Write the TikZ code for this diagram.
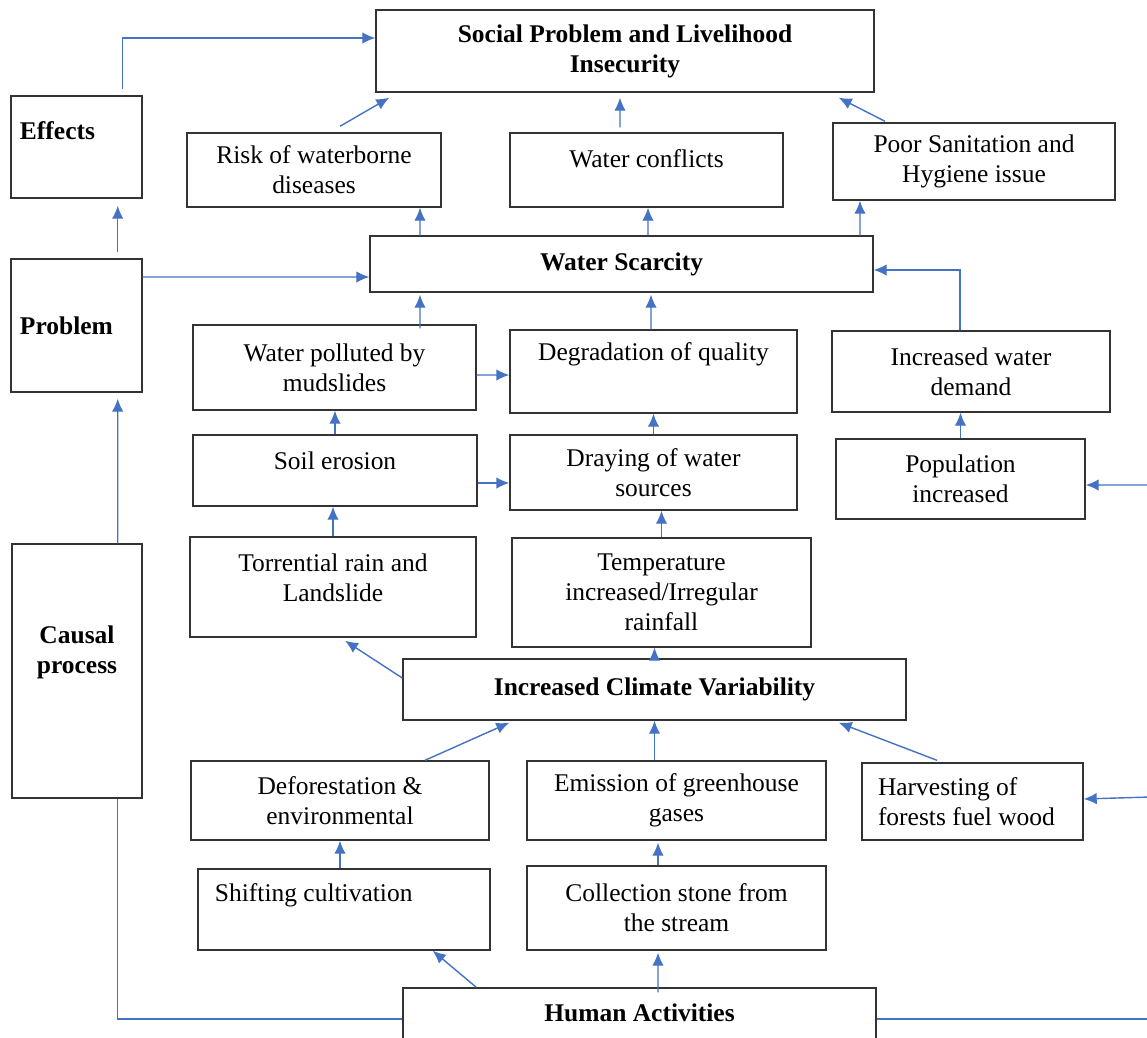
\documentclass[tikz,border=0pt]{standalone}
\usepackage{fontspec}
\setmainfont{Liberation Serif}
\usepackage{tikz}
\usetikzlibrary{arrows.meta}
\definecolor{linkblue}{RGB}{68,114,196}

\begin{document}
\begin{tikzpicture}[x=0.2mm,y=-0.2mm,>={Latex[length=2.6mm,width=2.3mm]},
    font=\fontsize{14.5}{17}\selectfont]
  \tikzstyle{block}=[rectangle,draw=black!80,line width=0.8pt,inner sep=0pt,
                     align=center]
  \tikzstyle{main block}=[block,font=\fontsize{14.5}{17}\selectfont\bfseries]
  \tikzstyle{flow}=[->,draw=linkblue,line width=0.8pt]
  \tikzstyle{link}=[draw=linkblue,line width=0.8pt]

  \useasboundingbox (0,0) rectangle (1147,1037);
  \clip (0,0) rectangle (1147,1037);

  % left column
  \node[main block,minimum width=2.62cm,minimum height=2.04cm,text width=2.26cm,
        align=flush left,text depth=19pt] (effects) at (76.5,147) {Effects};
  \node[main block,minimum width=2.62cm,minimum height=2.66cm,text width=2.26cm,
        align=flush left] (problem) at (76.5,325.5) {Problem};
  \node[main block,minimum width=2.6cm,minimum height=5.08cm,text depth=24pt]
        (causal) at (77,671) {Causal\\process};

  % effects
  \node[main block,minimum width=9.96cm,minimum height=1.64cm] (social) at (625,51)
        {Social Problem and Livelihood\\Insecurity};
  \node[block,minimum width=5.08cm,minimum height=1.48cm] (risk) at (314,170)
        {Risk of waterborne\\diseases};
  \node[block,minimum width=5.46cm,minimum height=1.48cm,text depth=13pt]
        (conflicts) at (646.5,170) {Water conflicts};
  \node[block,minimum width=5.64cm,minimum height=1.54cm] (sanitation) at (974,161.5)
        {Poor Sanitation and\\Hygiene issue};

  % problem
  \node[main block,minimum width=10.06cm,minimum height=1.12cm] (scarcity) at (621.5,264)
        {Water Scarcity};

  % causal process
  \node[block,minimum width=5.66cm,minimum height=1.7cm] (polluted) at (334.5,367.5)
        {Water polluted by\\mudslides};
  \node[block,minimum width=5.74cm,minimum height=1.66cm,text depth=23pt]
        (quality) at (653.5,371.5) {Degradation of quality};
  \node[block,minimum width=5.56cm,minimum height=1.62cm] (demand) at (971,371.5)
        {Increased water\\demand};
  \node[block,minimum width=5.68cm,minimum height=1.42cm,text depth=11pt]
        (erosion) at (335,470.5) {Soil erosion};
  \node[block,minimum width=5.74cm,minimum height=1.5cm] (drying) at (653.5,472.5)
        {Draying of water\\sources};
  \node[block,minimum width=4.98cm,minimum height=1.6cm] (population) at (960.5,479)
        {Population\\increased};
  \node[block,minimum width=5.72cm,minimum height=2cm,text depth=11pt]
        (rain) at (333,587) {Torrential rain and\\Landslide};
  \node[block,minimum width=5.98cm,minimum height=2.18cm] (temperature) at (661.5,592.5)
        {Temperature\\increased/Irregular\\rainfall};
  \node[main block,minimum width=10.06cm,minimum height=1.22cm] (climate) at (654.5,689.5)
        {Increased Climate Variability};
  \node[block,minimum width=5.96cm,minimum height=1.58cm] (deforest) at (340,800.5)
        {Deforestation \&\\environmental};
  \node[block,minimum width=5.98cm,minimum height=1.58cm] (emission) at (676.5,800.5)
        {Emission of greenhouse\\gases};
  \node[block,minimum width=4.42cm,minimum height=1.54cm,text width=3.78cm,
        align=flush left] (fuelwood) at (972.5,801.5) {Harvesting of\\forests fuel wood};
  \node[block,minimum width=5.84cm,minimum height=1.62cm,text width=5.16cm,
        align=flush left,text depth=19pt] (shifting) at (344,909.5) {Shifting cultivation};
  \node[block,minimum width=5.98cm,minimum height=1.68cm] (stone) at (676.5,908)
        {Collection stone from\\the stream};
  \node[main block,minimum width=9.46cm,minimum height=1.24cm,text depth=7pt]
        (human) at (639.5,1019) {Human Activities};

  % lines coming in from the right
  \coordinate (east1) at (1150,485);
  \coordinate (east2) at (1150,797);
  \coordinate (east3) at (1150,1019);

  % left column links
  \draw[flow] ([xshift=-4mm,yshift=1.2mm]effects.north east) |- ([yshift=2.6mm]social.west);
  \draw[flow,shorten <=1.2mm,shorten >=1.4mm] ([xshift=-5mm]problem.north east)
        -- ([xshift=-5mm]effects.south east);
  \draw[flow] ([yshift=9.7mm]problem.east) -- ([yshift=-2.6mm]scarcity.west);
  \draw[flow,shorten >=1.2mm] ([xshift=-5mm]causal.north east) -- ([xshift=-5mm]problem.south east);
  \draw[link] ([xshift=-5mm]causal.south east) |- (human.west);
  \draw[link] (human.east) -- (east3);

  % effects
  \draw[flow] ([xshift=5.2mm,yshift=1.2mm]risk.north) -- ([xshift=2.8mm,yshift=-1mm]social.south west);
  \draw[flow] ([xshift=-5.3mm,yshift=1mm]conflicts.north) -- ([xshift=-1mm,yshift=-1mm]social.south);
  \draw[flow] ([xshift=-17.8mm,yshift=0.2mm]sanitation.north) -- ([xshift=-7.2mm,yshift=-1mm]social.south east);

  % problem
  \draw[flow] ([xshift=-40.3mm]scarcity.north) -- ([xshift=21.2mm]risk.south);
  \draw[flow] ([xshift=5.3mm]scarcity.north) -- ([xshift=0.3mm]conflicts.south);
  \draw[flow] ([xshift=47.7mm]scarcity.north) -- ([xshift=-22.8mm]sanitation.south);
  \draw[flow] ([xshift=17.1mm,yshift=-0.8mm]polluted.north) -- ([xshift=-40.3mm,yshift=-0.4mm]scarcity.south);
  \draw[flow] ([xshift=-0.5mm]quality.north) -- ([xshift=5.9mm,yshift=-0.4mm]scarcity.south);
  \draw[flow] ([xshift=-2.2mm]demand.north) |- ([yshift=-1.2mm]scarcity.east);

  % causal process
  \draw[flow] ([yshift=-1.5mm]polluted.east) -- ([yshift=-0.7mm]quality.west);
  \draw[flow] (erosion.north) -- (erosion.north |- polluted.south);
  \draw[flow] (drying.north) -- (quality.south);
  \draw[flow] (population.north) -- (population.north |- demand.south);
  \draw[flow] ([yshift=-2.5mm]erosion.east) -- ([yshift=-2.1mm]drying.west);
  \draw[flow] (rain.north) -- (rain.north |- erosion.south);
  \draw[flow] (temperature.north) -- (temperature.north |- drying.south);
  \draw[flow] (east1) -- ([yshift=-1.2mm]population.east);
  \draw[flow] ([yshift=2.3mm]climate.west) -- ([xshift=2.4mm,yshift=-0.6mm]rain.south);
  \draw[flow] (climate.north) -- (climate.north |- temperature.south);
  \draw[flow] ([xshift=17mm]deforest.north) -- ([xshift=21.4mm,yshift=-0.4mm]climate.south west);
  \draw[flow] (emission.north -| climate.south) -- (climate.south);
  \draw[flow] ([xshift=-7.1mm,yshift=0.4mm]fuelwood.north) -- ([xshift=-13.6mm,yshift=-0.4mm]climate.south east);
  \draw[flow] (east2) -- ([yshift=0.5mm]fuelwood.east);
  \draw[flow] (shifting.north -| deforest.south) -- (deforest.south);
  \draw[flow] ([xshift=-3.7mm]stone.north) -- ([xshift=-3.7mm,yshift=-0.4mm]emission.south);

  % human activities
  \draw[flow] ([xshift=14.8mm]human.north west) -- ([xshift=-11.6mm]shifting.south east);
  \draw[flow] ([xshift=3.7mm,yshift=-1mm]human.north) -- ([xshift=-3.7mm,yshift=-0.4mm]stone.south);
\end{tikzpicture}
\end{document}
